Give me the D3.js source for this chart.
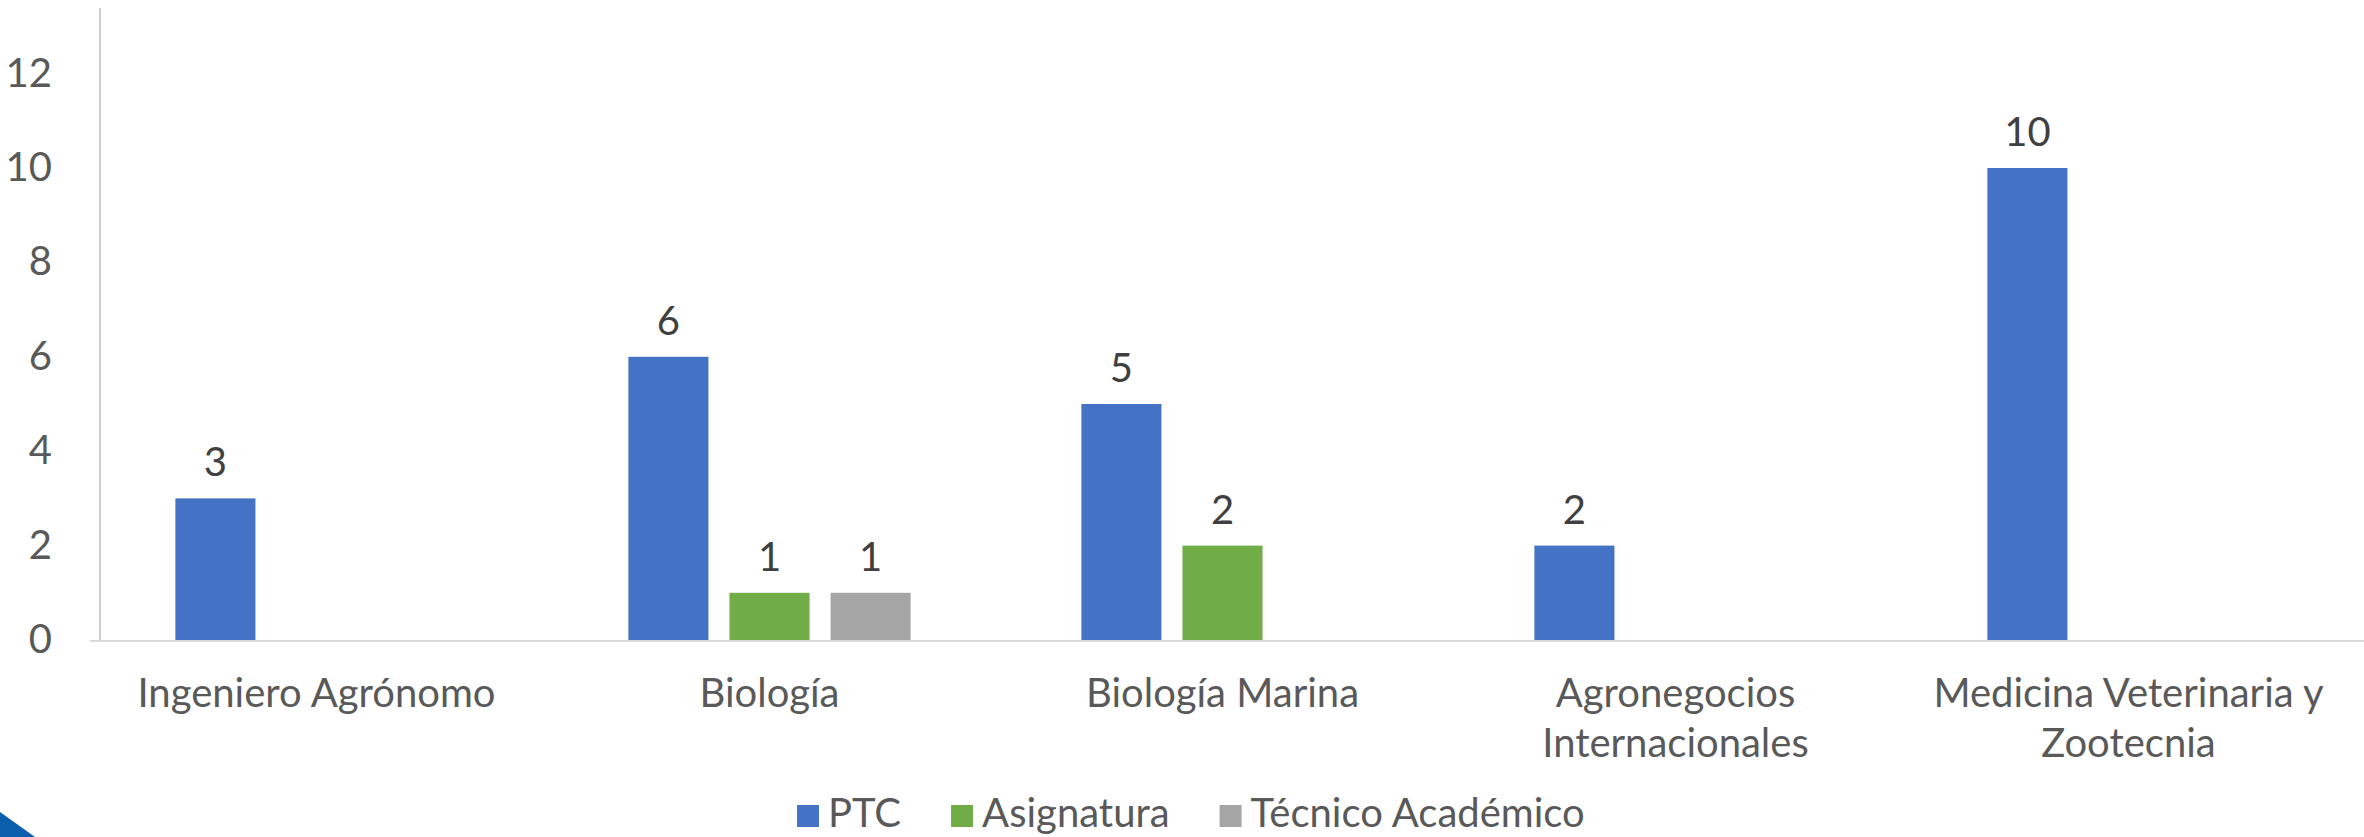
<!DOCTYPE html>
<head>
<meta charset="utf-8">
<script src="https://d3js.org/d3.v7.min.js"></script>
<style>
  body { margin: 0; background: #fff; }
  text { font-family: Lato, "Open Sans", sans-serif; }
</style>
<title>Profesores por programa</title>
</head>
<body>
<div id="vis"></div>
<script>
// data
const categories = [
  ['Ingeniero Agrónomo'],
  ['Biología'],
  ['Biología Marina'],
  ['Agronegocios', 'Internacionales'],
  ['Medicina Veterinaria y', 'Zootecnia']
]
const series = ['PTC', 'Asignatura', 'Técnico Académico']
const ptc = [3, 6, 5, 2, 10]
const asignatura = [null, 1, 2, null, null]
const tecnico = [null, 1, null, null, null]
const yTicks = [0, 2, 4, 6, 8, 10, 12]

const colors = ['#4472C4', '#70AD47', '#A5A5A5']
const values = [ptc, asignatura, tecnico]

const width = 2364
const height = 837
const plot = { left: 90, right: 2355, top: 8, bottom: 640 }

const svg = d3.select('#vis').append('svg')
  .attr('width', width)
  .attr('height', height)

const catKeys = categories.map(d => d.join(' '))

const x0 = d3.scaleBand()
  .domain(catKeys)
  .range([plot.left, plot.right])
  .paddingInner(0.377)
  .paddingOuter(0.1885)

const x1 = d3.scaleBand()
  .domain(series)
  .range([0, x0.bandwidth()])
  .paddingInner(0.208)

const y = d3.scaleLinear()
  .domain([0, 14])
  .range([plot.bottom, plot.bottom - 14 * 47.2])

// y axis line
svg.append('line')
  .attr('x1', 100).attr('x2', 100)
  .attr('y1', plot.top).attr('y2', plot.bottom)
  .attr('stroke', '#BFBFBF')
  .attr('stroke-width', 1.5)

// y tick labels
svg.selectAll('.ytick')
  .data(yTicks)
  .enter()
  .append('text')
  .attr('class', 'ytick')
  .attr('x', 52)
  .attr('y', d => y(d) + 13)
  .attr('text-anchor', 'end')
  .attr('font-size', 40)
  .attr('fill', '#595959')
  .text(d => d)

// bars
const rows = []
catKeys.forEach((c, i) => {
  series.forEach((s, j) => {
    if (values[j][i] != null) rows.push({ cat: c, series: s, value: values[j][i], color: colors[j] })
  })
})

svg.selectAll('.bar')
  .data(rows)
  .enter()
  .append('rect')
  .attr('class', 'bar')
  .attr('x', d => x0(d.cat) + x1(d.series))
  .attr('y', d => y(d.value))
  .attr('width', x1.bandwidth())
  .attr('height', d => y(0) - y(d.value))
  .attr('fill', d => d.color)

svg.selectAll('.label')
  .data(rows)
  .enter()
  .append('text')
  .attr('class', 'label')
  .attr('x', d => x0(d.cat) + x1(d.series) + x1.bandwidth() / 2)
  .attr('y', d => y(d.value) - 22)
  .attr('text-anchor', 'middle')
  .attr('font-size', 40)
  .attr('fill', '#404040')
  .text(d => d.value)

// baseline
svg.append('line')
  .attr('x1', plot.left).attr('x2', plot.right + 10)
  .attr('y1', y(0) + 1).attr('y2', y(0) + 1)
  .attr('stroke', '#D9D9D9')
  .attr('stroke-width', 2)

// category labels
const catLabels = svg.selectAll('.cat')
  .data(categories)
  .enter()
  .append('text')
  .attr('class', 'cat')
  .attr('text-anchor', 'middle')
  .attr('font-size', 40)
  .attr('fill', '#595959')

catLabels.selectAll('tspan')
  .data((d, i) => d.map(line => ({ line, key: catKeys[i] })))
  .enter()
  .append('tspan')
  .attr('x', d => x0(d.key) + x0.bandwidth() / 2)
  .attr('y', (d, i) => 707 + i * 50)
  .text(d => d.line)

// legend
const legend = svg.append('g')
let lx = 797
series.forEach((s, j) => {
  legend.append('rect')
    .attr('x', lx).attr('y', 805)
    .attr('width', 22).attr('height', 22)
    .attr('fill', colors[j])
  const t = legend.append('text')
    .attr('x', lx + 31).attr('y', 827)
    .attr('font-size', 40)
    .attr('fill', '#595959')
    .text(s)
  lx += 31 + t.node().getComputedTextLength() + 50
})

// corner decoration
svg.append('path')
  .attr('d', d3.line()([[0, 812], [35, 837], [0, 837]]))
  .attr('fill', '#0A5EAC')
</script>
</body>
